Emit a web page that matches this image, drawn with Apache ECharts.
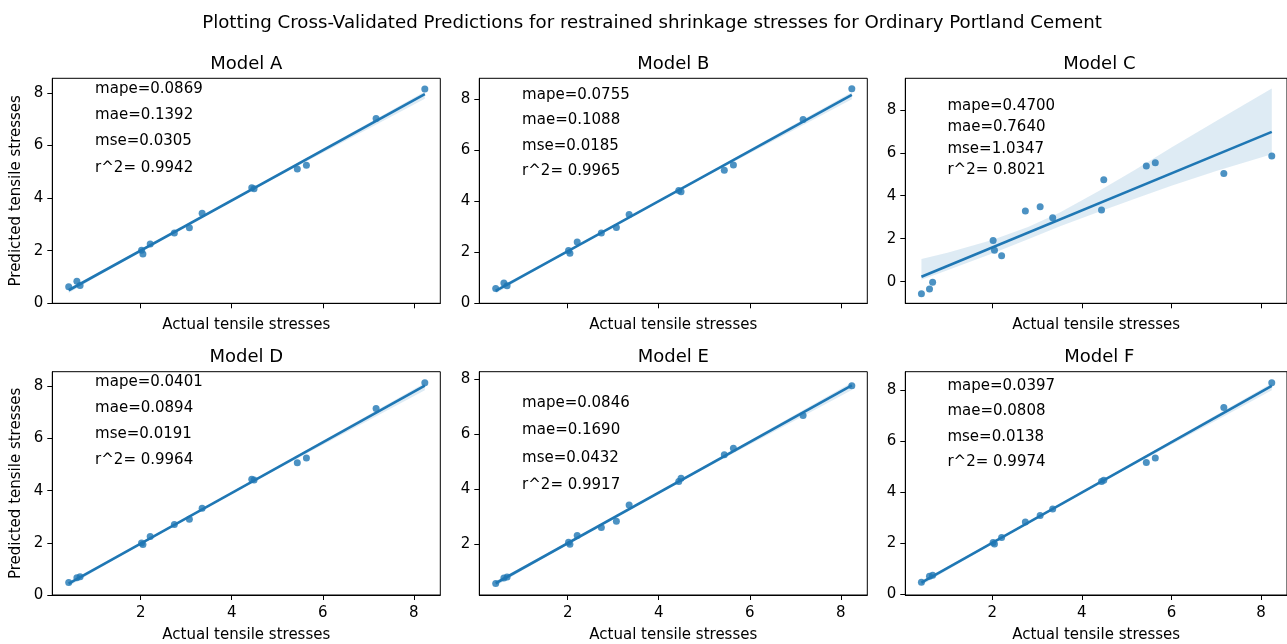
<!DOCTYPE html>
<html><head><meta charset="utf-8">
<script src="https://cdn.jsdelivr.net/npm/echarts@6/dist/echarts.min.js"></script>
<style>html,body{margin:0;padding:0;background:#fff}#c{width:1287px;height:644px}</style>
</head><body><div id="c"></div>
<script>
// ---------------- data ----------------
const suptitle = 'Plotting Cross-Validated Predictions for restrained shrinkage stresses for Ordinary Portland Cement';
const modelNames = ['Model A', 'Model B', 'Model C', 'Model D', 'Model E', 'Model F'];
const xAxisName = 'Actual tensile stresses';
const yAxisName = 'Predicted tensile stresses';

const actual = [0.42, 0.60, 0.67, 2.02, 2.05, 2.21, 2.74, 3.07, 3.35, 4.44, 4.49, 5.44, 5.64, 7.17, 8.24];
const predA = [0.63, 0.84, 0.68, 2.02, 1.87, 2.25, 2.67, 2.87, 3.42, 4.39, 4.35, 5.10, 5.25, 7.02, 8.14];
const predB = [0.58, 0.79, 0.69, 2.07, 1.96, 2.40, 2.75, 2.97, 3.48, 4.42, 4.37, 5.21, 5.42, 7.20, 8.40];
const predC = [-0.56, -0.34, -0.03, 1.91, 1.46, 1.20, 3.29, 3.49, 2.98, 3.34, 4.74, 5.39, 5.54, 5.03, 5.85];
const predD = [0.48, 0.66, 0.70, 1.99, 1.94, 2.24, 2.70, 2.90, 3.33, 4.44, 4.41, 5.07, 5.25, 7.15, 8.14];
const predE = [0.58, 0.78, 0.81, 2.08, 2.00, 2.32, 2.61, 2.84, 3.43, 4.28, 4.40, 5.25, 5.49, 6.68, 7.76];
const predF = [0.47, 0.70, 0.74, 2.02, 1.97, 2.22, 2.83, 3.08, 3.34, 4.41, 4.46, 5.16, 5.33, 7.31, 8.28];

const metricsA = ['mape=0.0869', 'mae=0.1392', 'mse=0.0305', 'r^2= 0.9942'];
const metricsB = ['mape=0.0755', 'mae=0.1088', 'mse=0.0185', 'r^2= 0.9965'];
const metricsC = ['mape=0.4700', 'mae=0.7640', 'mse=1.0347', 'r^2= 0.8021'];
const metricsD = ['mape=0.0401', 'mae=0.0894', 'mse=0.0191', 'r^2= 0.9964'];
const metricsE = ['mape=0.0846', 'mae=0.1690', 'mse=0.0432', 'r^2= 0.9917'];
const metricsF = ['mape=0.0397', 'mae=0.0808', 'mse=0.0138', 'r^2= 0.9974'];

// annotation anchor (data coords): x, and y of each of the four lines
const textX = 1;
const textYStd = [8, 7, 6, 5];
const textYE = [7, 6, 5, 4];

// confidence band: offsets from the fitted line
const bandX = [0.42, 1, 2, 2.8, 3.5, 4.4, 5.2, 6, 7, 8.24];
const bandUpC = [0.83, 0.62, 0.35, 0.26, 0.32, 0.58, 0.87, 1.2, 1.58, 2.02];
const bandLoC = [-0.14, -0.2, -0.28, -0.3, -0.32, -0.4, -0.48, -0.58, -0.75, -1.05];
const bandUpTight = [0.08, 0.06, 0.04, 0.03, 0.03, 0.03, 0.04, 0.06, 0.08, 0.10];
const bandLoTight = [-0.10, -0.07, -0.04, -0.03, -0.03, -0.04, -0.06, -0.09, -0.13, -0.17];

// axis ranges and ticks
const xMin = 0.06, xMax = 8.58;
const xTicks = [2, 4, 6, 8];
const yMin = [0, 0, -1.01, 0, 0.16, -0.03];
const yMax = [8.55, 8.81, 9.47, 8.56, 8.27, 8.71];
const yTicksStd = [0, 2, 4, 6, 8];
const yTicksE = [2, 4, 6, 8];

// ---------------- layout / style ----------------
const FONT = 'DejaVu Sans';
const BLUE = '#1f77b4';
const colLeft = [52.3, 479.3, 905.3];
const rowTop = [78.3, 371.7];
const gridW = 388, gridH = 225;

const panels = [
  {y: predA, m: metricsA, ty: textYStd, up: bandUpTight, lo: bandLoTight, yt: yTicksStd},
  {y: predB, m: metricsB, ty: textYStd, up: bandUpTight, lo: bandLoTight, yt: yTicksStd},
  {y: predC, m: metricsC, ty: textYStd, up: bandUpC, lo: bandLoC, yt: yTicksStd},
  {y: predD, m: metricsD, ty: textYStd, up: bandUpTight, lo: bandLoTight, yt: yTicksStd},
  {y: predE, m: metricsE, ty: textYE, up: bandUpTight, lo: bandLoTight, yt: yTicksE},
  {y: predF, m: metricsF, ty: textYStd, up: bandUpTight, lo: bandLoTight, yt: yTicksStd}
];

function fit(xs, ys) {
  const n = xs.length;
  const mx = xs.reduce((a, b) => a + b, 0) / n;
  const my = ys.reduce((a, b) => a + b, 0) / n;
  let sxx = 0, sxy = 0;
  for (let i = 0; i < n; i++) { sxx += (xs[i] - mx) ** 2; sxy += (xs[i] - mx) * (ys[i] - my); }
  const b = sxy / sxx;
  return {a: my - b * mx, b};
}

const grids = [], xAxes = [], yAxes = [], series = [];
const titles = [{
  text: suptitle, left: 652, top: 14, textAlign: 'center', padding: 0,
  textStyle: {fontFamily: FONT, fontSize: 18.2, fontWeight: 'normal', color: '#000'}
}];

panels.forEach((p, i) => {
  const row = Math.floor(i / 3), col = i % 3;
  const left = colLeft[col], top = rowTop[row];
  grids.push({left, top, width: gridW, height: gridH, show: true, borderColor: '#000', borderWidth: 1, backgroundColor: 'transparent', containLabel: false});
  titles.push({
    text: modelNames[i], left: left + gridW / 2, top: top - 23, textAlign: 'center', padding: 0,
    textStyle: {fontFamily: FONT, fontSize: 18, fontWeight: 'normal', color: '#000'}
  });
  xAxes.push({
    gridIndex: i, type: 'value', min: xMin, max: xMax,
    axisLine: {show: true, onZero: false, lineStyle: {color: '#000', width: 1}},
    axisTick: {show: true, length: 5, customValues: xTicks, lineStyle: {color: '#000', width: 1}},
    axisLabel: {show: row === 1, customValues: xTicks, fontFamily: FONT, fontSize: 15, color: '#000', margin: 11},
    splitLine: {show: false},
    name: xAxisName, nameLocation: 'middle', nameGap: row === 1 ? 33 : 14,
    nameTextStyle: {fontFamily: FONT, fontSize: 15, color: '#000'}
  });
  yAxes.push({
    gridIndex: i, type: 'value', min: yMin[i], max: yMax[i],
    axisLine: {show: true, onZero: false, lineStyle: {color: '#000', width: 1}},
    axisTick: {show: true, length: 5, customValues: p.yt, lineStyle: {color: '#000', width: 1}},
    axisLabel: {show: true, customValues: p.yt, fontFamily: FONT, fontSize: 15, color: '#000', margin: 9},
    splitLine: {show: false},
    name: col === 0 ? yAxisName : '', nameLocation: 'middle', nameGap: 29, nameRotate: 90,
    nameTextStyle: {fontFamily: FONT, fontSize: 15, color: '#000'}
  });

  const f = fit(actual, p.y);
  const x0 = Math.min(...actual), x1 = Math.max(...actual);
  const upper = bandX.map((x, k) => [x, f.a + f.b * x + p.up[k]]);
  const lower = bandX.map((x, k) => [x, f.a + f.b * x + p.lo[k]]);

  series.push({
    type: 'custom', xAxisIndex: i, yAxisIndex: i, silent: true, z: 1, clip: true,
    data: [[x0, f.a + f.b * x0]],
    renderItem: (params, api) => {
      const pts = upper.map(q => api.coord(q)).concat(lower.slice().reverse().map(q => api.coord(q)));
      return {type: 'polygon', shape: {points: pts}, style: {fill: BLUE, opacity: 0.15}};
    }
  });
  series.push({
    type: 'scatter', xAxisIndex: i, yAxisIndex: i, z: 2, silent: true,
    data: actual.map((x, k) => [x, p.y[k]]),
    symbolSize: 7, itemStyle: {color: BLUE, opacity: 0.8}
  });
  series.push({
    type: 'line', xAxisIndex: i, yAxisIndex: i, z: 3, silent: true,
    data: [[x0, f.a + f.b * x0], [x1, f.a + f.b * x1]],
    showSymbol: false, symbol: 'none', lineStyle: {color: BLUE, width: 2.6}
  });
  series.push({
    type: 'scatter', xAxisIndex: i, yAxisIndex: i, z: 4, silent: true,
    data: p.m.map((t, k) => ({name: t, value: [textX, p.ty[k]]})),
    symbolSize: 0,
    label: {show: true, formatter: '{b}', position: [0, 0], align: 'left', verticalAlign: 'middle', offset: [0, -4],
      fontFamily: FONT, fontSize: 15, color: '#000', opacity: 1, textBorderWidth: 0}
  });
});

const chart = echarts.init(document.getElementById('c'), null, {renderer: 'canvas'});
chart.setOption({
  animation: false,
  backgroundColor: '#fff',
  title: titles,
  grid: grids, xAxis: xAxes, yAxis: yAxes, series
});
</script></body></html>
